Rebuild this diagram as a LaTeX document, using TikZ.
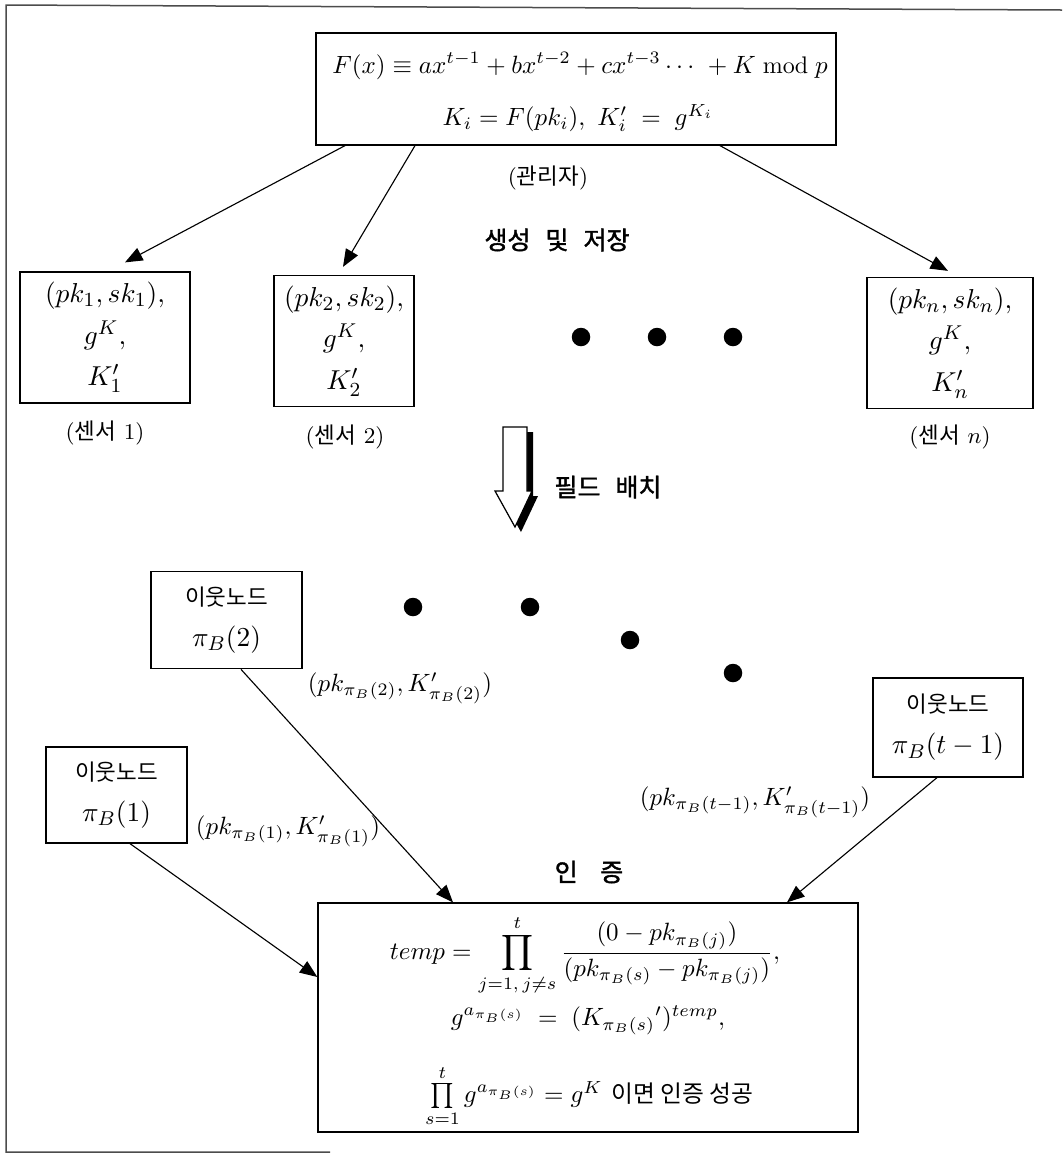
\documentclass[tikz,border=0pt]{standalone}
\usepackage{fontspec}
\usepackage{amsmath}
\usetikzlibrary{arrows.meta}
\newfontfamily\kr{Noto Sans CJK KR}
\newfontfamily\krb[FakeBold=1.6]{Noto Sans CJK KR}
\begin{document}
\begin{tikzpicture}[x=0.4pt,y=-0.4pt,
  box/.style={draw, line width=0.5pt, inner sep=0pt, align=center},
  arr/.style={line width=0.45pt, -{Triangle[length=7pt,width=5.5pt]}},
  bigdot/.style={circle, fill=black, inner sep=0pt, minimum size=7.4pt},
  plabel/.style={font=\fontsize{9}{11}\selectfont, inner sep=0pt},
  head/.style={font=\krb\fontsize{10}{12}\selectfont, inner sep=0pt},
  mathtxt/.style={inner sep=0pt},
  sensor/.style={box, font=\fontsize{11}{16.6}\selectfont, minimum height=52.4pt},
  nbr/.style={box, font=\fontsize{11}{16.4}\selectfont, minimum height=39pt}
]
\useasboundingbox (0,0) rectangle (1062,1155);
% outer frame (left, top, partial bottom)
\draw[line width=0.6pt, black!70] (1062,10) -- (6,5) -- (6,1152) -- (330,1152);

% top box
\node[box, minimum width=208pt, minimum height=44.8pt] (top) at (576,89) {};
\node[mathtxt, font=\fontsize{9.6}{12}\selectfont] (f1) at (580,66)
  {$F(x) \equiv ax^{t-1} + bx^{t-2} + cx^{t-3} \cdots\ + K \bmod p$};
\node[mathtxt, font=\fontsize{9.6}{12}\selectfont] (f2) at (578,118)
  {$K_i = F(pk_i),\ K_i' \;=\; g^{K_i}$};
\node[plabel] (mgr) at (548,178) {({\kr 관리자})};

\node[head] (gen) at (557,240) {생성\hspace{0.6em}및\hspace{0.6em}저장};

% sensor boxes
\node[sensor, minimum width=68pt] (s1) at (105,337.5) {$(pk_1,sk_1),$\\$g^{K},$\\$K_1'$};
\node[sensor, minimum width=56pt] (s2) at (344,341) {$(pk_2,sk_2),$\\$g^{K},$\\$K_2'$};
\node[sensor, minimum width=66.4pt] (sn) at (950,343) {$(pk_n,sk_n),$\\$g^{K},$\\$K_n'$};
\node[plabel] (l1) at (105,433) {({\kr 센서} 1)};
\node[plabel] (l2) at (345,437) {({\kr 센서} 2)};
\node[plabel] (ln) at (950,437) {({\kr 센서} $n$)};

\node[bigdot] (d1) at (581,337) {};
\node[bigdot] (d2) at (657,337) {};
\node[bigdot] (d3) at (733,337) {};

\draw[arr] ([xshift=-92.4pt]top.south) -- ([xshift=8pt,yshift=3.6pt]s1.north);
\draw[arr] ([xshift=-64.4pt]top.south) -- ([xshift=-0.4pt,yshift=3.2pt]s2.north);
\draw[arr] ([xshift=57.6pt]top.south) -- ([xshift=-0.8pt,yshift=2.4pt]sn.north);

% deployment arrow (3D block arrow)
\fill[black, shift={(6,5)}] (503,427) -- (527,427) -- (527,491) -- (532,491) -- (515,527) -- (495,491) -- (503,491) -- cycle;
\draw[line width=0.5pt, fill=white] (503,427) -- (527,427) -- (527,491) -- (532,491) -- (515,527) -- (495,491) -- (503,491) -- cycle;
\node[head] (dep) at (608,487) {필드\hspace{0.6em}배치};

% neighbour nodes
\node[nbr, minimum width=60.4pt] (n2) at (226.5,620) {{\kr\fontsize{9}{11}\selectfont 이웃노드}\\$\pi_B(2)$};
\node[nbr, minimum width=56.4pt, minimum height=38.4pt] (n1) at (116.5,795) {{\kr\fontsize{9}{11}\selectfont 이웃노드}\\$\pi_B(1)$};
\node[nbr, minimum width=60pt, minimum height=39.6pt] (nt) at (948,727.5) {{\kr\fontsize{9}{11}\selectfont 이웃노드}\\$\pi_B(t-1)$};

\node[bigdot] (e1) at (413,607) {};
\node[bigdot] (e2) at (530,607) {};
\node[bigdot] (e3) at (630,640) {};
\node[bigdot] (e4) at (733,673) {};

\node[mathtxt, font=\fontsize{10}{12}\selectfont] (k2) at (400,688) {$(pk_{\pi_B(2)}, K^{\prime}_{\pi_B(2)})$};
\node[mathtxt, font=\fontsize{9.6}{12}\selectfont] (k1) at (288,831) {$(pk_{\pi_B(1)}, K^{\prime}_{\pi_B(1)})$};
\node[mathtxt, font=\fontsize{10}{12}\selectfont] (kt) at (755,802) {$(pk_{\pi_B(t-1)}, K^{\prime}_{\pi_B(t-1)})$};

\node[head] (auth) at (589,872) {인\hspace{0.9em}증};

% authentication box
\node[box, minimum width=216pt, minimum height=91.6pt] (ab) at (588,1017.5) {};
\node[mathtxt, font=\fontsize{10.4}{13}\selectfont] (b1) at (585,955)
  {$\displaystyle temp = \prod_{j=1,\,j\neq s}^{t} \frac{(0-pk_{\pi_B(j)})}{(pk_{\pi_B(s)}-pk_{\pi_B(j)})},$};
\node[mathtxt, font=\fontsize{10.4}{13}\selectfont] (b2) at (588,1020)
  {$g^{a_{\pi_B(s)}} \;=\; (K_{\pi_B(s)}{}')^{temp},$};
\node[mathtxt, font=\fontsize{10.2}{13}\selectfont] (b3) at (589,1096)
  {$\prod\limits_{s=1}^{t} g^{a_{\pi_B(s)}} = g^{K}$\ {\kr\fontsize{9.5}{12}\selectfont 이면 인증 성공}};

\draw[arr] ([xshift=5.4pt]n1.south) -- ([yshift=16.2pt]ab.west);
\draw[arr] ([xshift=5.8pt]n2.south) -- ([xshift=-54pt]ab.north);
\draw[arr] ([xshift=-4.4pt]nt.south) -- ([xshift=79.6pt]ab.north);
\end{tikzpicture}
\end{document}
